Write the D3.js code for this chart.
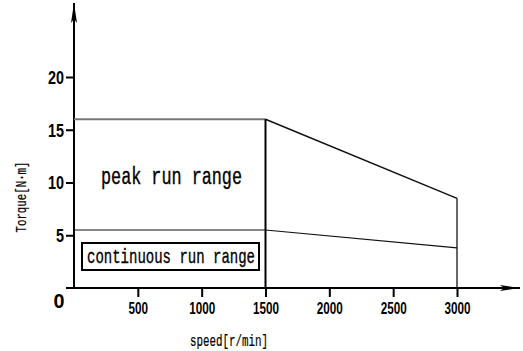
<!DOCTYPE html>
<html>
<head>
<meta charset="utf-8">
<script src="https://cdn.jsdelivr.net/npm/d3@7"></script>
<style>
  body { margin: 0; background: #fff; }
  svg { display: block; }
  .tick-num { font-family: "Liberation Sans Narrow", "Liberation Sans", sans-serif; font-weight: bold; }
  .label { font-family: "Liberation Mono", "DejaVu Sans Mono", monospace; stroke: #000; stroke-width: 0.35px; }
</style>
</head>
<body>
<div id="chart"></div>
<script>
// curve data
const speed = [0, 1500, 3000];
const peakTorque = [16, 16, 8.5];
const contTorque = [5.5, 5.5, 3.8];
const xTicks = [500, 1000, 1500, 2000, 2500, 3000];
const yTicks = [5, 10, 15, 20];

const W = 523, H = 351;

const svg = d3.select("#chart").append("svg")
    .attr("width", W)
    .attr("height", H);

const x = d3.scaleLinear().domain([0, 3000]).range([74, 457]);
const y = d3.scaleLinear().domain([0, 20]).range([288, 77]);

// axes with arrows
svg.append("defs").append("marker")
    .attr("id", "arrow")
    .attr("viewBox", "0 0 20 8")
    .attr("refX", 20).attr("refY", 4)
    .attr("markerWidth", 20).attr("markerHeight", 8)
    .attr("markerUnits", "userSpaceOnUse")
    .attr("orient", "auto")
    .append("path")
    .attr("d", "M0,1 L20,4 L0,7 L4,4 Z")
    .attr("fill", "#000");

svg.append("line")
    .attr("x1", 66).attr("x2", 520)
    .attr("y1", y(0)).attr("y2", y(0))
    .attr("stroke", "#000").attr("stroke-width", 2)
    .attr("marker-end", "url(#arrow)");

svg.append("line")
    .attr("x1", x(0)).attr("x2", x(0))
    .attr("y1", y(0)).attr("y2", 3)
    .attr("stroke", "#000").attr("stroke-width", 2)
    .attr("marker-end", "url(#arrow)");

// x ticks (below the axis), tall narrow digits
const xAxis = d3.axisBottom(x).tickValues(xTicks).tickSize(9).tickFormat(d3.format("d"));
const gx = svg.append("g").attr("transform", `translate(0,${y(0)})`).call(xAxis);
gx.select(".domain").remove();
gx.selectAll(".tick line").attr("stroke-width", 2);
gx.selectAll(".tick text")
    .attr("class", "tick-num")
    .attr("fill", "#000")
    .attr("y", 26).attr("dy", null)
    .style("font-size", "16px")
    .attr("textLength", d => String(d).length * 6.5)
    .attr("lengthAdjust", "spacingAndGlyphs");

// y ticks
const yAxis = d3.axisLeft(y).tickValues(yTicks).tickSize(8).tickPadding(2);
const gy = svg.append("g").attr("transform", `translate(${x(0)},0)`).call(yAxis);
gy.select(".domain").remove();
gy.selectAll(".tick line").attr("stroke-width", 2);
gy.selectAll(".tick text")
    .attr("class", "tick-num")
    .attr("fill", "#000")
    .attr("dy", "0.36em")
    .style("font-size", "18px")
    .attr("textLength", d => String(d).length * 8)
    .attr("lengthAdjust", "spacingAndGlyphs");

svg.append("text")
    .attr("class", "tick-num")
    .attr("x", 59).attr("y", 308)
    .attr("text-anchor", "middle")
    .attr("textLength", 11).attr("lengthAdjust", "spacingAndGlyphs")
    .style("font-size", "21px")
    .text("0");

// peak curve
svg.append("line")
    .attr("x1", x(speed[0])).attr("x2", x(speed[1]))
    .attr("y1", y(peakTorque[0])).attr("y2", y(peakTorque[1]))
    .attr("stroke", "#777").attr("stroke-width", 2);
svg.append("line")
    .attr("x1", x(speed[1])).attr("x2", x(speed[2]))
    .attr("y1", y(peakTorque[1])).attr("y2", y(peakTorque[2]))
    .attr("stroke", "#111").attr("stroke-width", 1.5);

// verticals at 1500 and 3000
svg.append("line")
    .attr("x1", x(speed[1])).attr("x2", x(speed[1]))
    .attr("y1", y(0)).attr("y2", y(peakTorque[1]))
    .attr("stroke", "#000").attr("stroke-width", 2);
svg.append("line")
    .attr("x1", x(speed[2])).attr("x2", x(speed[2]))
    .attr("y1", y(0)).attr("y2", y(peakTorque[2]))
    .attr("stroke", "#000").attr("stroke-width", 1.2);

// continuous curve
svg.append("path")
    .datum(speed.map((s, i) => [s, contTorque[i]]))
    .attr("d", d3.line().x(d => x(d[0])).y(d => y(d[1])))
    .attr("fill", "none")
    .attr("stroke", "#111").attr("stroke-width", 1.2);

// area labels
svg.append("text")
    .attr("class", "label")
    .attr("x", 101).attr("y", 184)
    .attr("textLength", 141).attr("lengthAdjust", "spacingAndGlyphs")
    .style("font-size", "23px")
    .text("peak run range");

svg.append("rect")
    .attr("x", 82).attr("y", 243)
    .attr("width", 177).attr("height", 27)
    .attr("fill", "none").attr("stroke", "#000").attr("stroke-width", 2);

svg.append("text")
    .attr("class", "label")
    .attr("x", 87).attr("y", 263)
    .attr("textLength", 168).attr("lengthAdjust", "spacingAndGlyphs")
    .style("font-size", "21px")
    .text("continuous run range");

// axis titles
svg.append("text")
    .attr("class", "label")
    .attr("transform", "translate(26,197) rotate(-90)")
    .attr("text-anchor", "middle")
    .attr("textLength", 71).attr("lengthAdjust", "spacingAndGlyphs")
    .style("font-size", "15px")
    .style("stroke-width", "0.2px")
    .text("Torque[N·m]");

svg.append("text")
    .attr("class", "label")
    .attr("x", 190).attr("y", 346)
    .attr("textLength", 78).attr("lengthAdjust", "spacingAndGlyphs")
    .style("font-size", "16px")
    .style("stroke-width", "0.2px")
    .text("speed[r/min]");
</script>
</body>
</html>
